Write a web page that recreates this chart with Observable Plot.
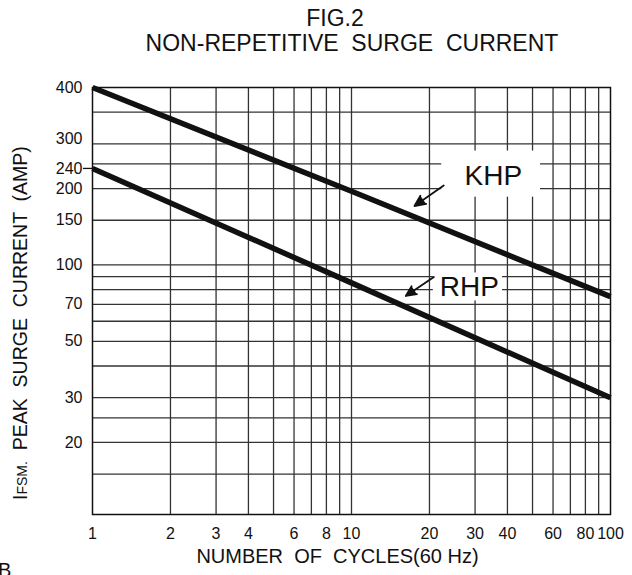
<!DOCTYPE html>
<html><head><meta charset="utf-8">
<script src="https://cdn.jsdelivr.net/npm/d3@7"></script>
<script src="https://cdn.jsdelivr.net/npm/@observablehq/plot@0.6"></script>
<style>
body{margin:0;background:#fff;font-family:"Liberation Sans",Arial,sans-serif;}
#wrap{position:relative;width:632px;height:575px;overflow:hidden;background:#fff;}
#head{position:relative;height:60px;}
.t{position:absolute;white-space:pre;color:#111;line-height:0.9;}
#chart svg{display:block;}
</style></head><body>
<div id="wrap">
  <div id="head">
    <div class="t" style="font-size:23px;left:0;width:670px;text-align:center;top:8px;">FIG.2</div>
    <div class="t" style="font-size:23px;left:0;width:704px;text-align:center;top:33px;">NON-REPETITIVE  SURGE  CURRENT</div>
  </div>
  <div id="chart"></div>
  <div class="t" style="font-size:20px;left:-2px;top:561px;">B</div>
</div>
<script>
// Data
const cycles = [1, 10, 100];
const khpAmps = [500, 195, 75];
const rhpAmps = [240, 85, 30];

// Axis ticks / grid
const xTickValues = [1, 2, 3, 4, 6, 8, 10, 20, 30, 40, 60, 80, 100];
const xTickLabels = ["1", "2", "3", "4", "6", "8", "10", "20", "30", "40", "60", "80", "100"];
const xGridValues = [2, 3, 4, 5, 6, 7, 8, 9, 10, 20, 30, 40, 50, 60, 70, 80, 90];
const yGridValues = [15, 20, 25, 30, 40, 50, 60, 70, 80, 90, 100, 150, 200, 250, 300, 400];
const yTickValues = [500, 315, 240, 200, 150, 100, 70, 50, 30, 20];
const yTickLabels = ["400", "300", "240", "200", "150", "100", "70", "50", "30", "20"];
const yMarkedTick = [240];

// Annotations (data coordinates)
const seriesNames = ["KHP", "RHP"];
const labelX = [35.3, 28.5];
const labelY = [223, 82];
const boxX1 = [22.3, 20.7];
const boxX2 = [53.7, 38.3];
const boxY1 = [185, 72.2];
const boxY2 = [281, 93];
const arrowTailX = [22.7, 20.8];
const arrowTailY = [205.5, 89.7];
const arrowTipX = [17.5, 16.2];
const arrowTipY = [170.6, 75.5];

const curves = [
  ...cycles.map((c, i) => ({series: "KHP", cycles: c, amps: khpAmps[i]})),
  ...cycles.map((c, i) => ({series: "RHP", cycles: c, amps: rhpAmps[i]}))
];
const notes = seriesNames.map((n, i) => ({
  name: n, x: labelX[i], y: labelY[i],
  bx1: boxX1[i], bx2: boxX2[i], by1: boxY1[i], by2: boxY2[i],
  ax1: arrowTailX[i], ay1: arrowTailY[i], ax2: arrowTipX[i], ay2: arrowTipY[i]
}));
const xTicks = xTickValues.map((v, i) => ({v, label: xTickLabels[i]}));
const yTicks = yTickValues.map((v, i) => ({v, label: yTickLabels[i]}));

const plot = Plot.plot({
  width: 632,
  height: 515,
  marginTop: 27,
  marginBottom: 61,
  marginLeft: 92,
  marginRight: 22,
  style: {fontFamily: "Liberation Sans, Arial, sans-serif", fontSize: "16px", color: "#111", background: "white"},
  x: {type: "log", domain: [1, 100], axis: null},
  y: {type: "log", domain: [10.4, 500], axis: null},
  marks: [
    Plot.ruleX(xGridValues, {stroke: "#333", strokeWidth: 1.3}),
    Plot.ruleY(yGridValues, {stroke: "#333", strokeWidth: 1.3}),
    Plot.rect(notes, {x1: "bx1", x2: "bx2", y1: "by1", y2: "by2", fill: "white"}),
    Plot.frame({stroke: "#111", strokeWidth: 1.5}),
    Plot.line(curves, {x: "cycles", y: "amps", z: "series", stroke: "#111", strokeWidth: 5.5, strokeLinecap: "butt"}),
    Plot.arrow(notes, {x1: "ax1", y1: "ay1", x2: "ax2", y2: "ay2", stroke: "#111", fill: "#111", strokeWidth: 1.8, headLength: 12, headAngle: 50}),
    Plot.text(notes, {x: "x", y: "y", text: "name", fontSize: 28, fill: "#111"}),
    // x tick labels
    Plot.text(xTicks, {x: "v", text: "label", frameAnchor: "bottom", lineAnchor: "top", dy: 13, fontSize: 16, fill: "#111"}),
    // y tick labels
    Plot.text(yTicks, {y: "v", text: "label", frameAnchor: "left", textAnchor: "end", dx: -10, fontSize: 16, fill: "#111"}),
    // the single outside tick at 240
    Plot.axisY(yMarkedTick, {tickSize: 9, tickFormat: () => "", label: null, stroke: "#111", strokeWidth: 1.3}),
    Plot.text(["NUMBER  OF  CYCLES(60 Hz)"], {frameAnchor: "bottom", text: d => d, dy: 48, dx: -14, fontSize: 20, fill: "#111"})
  ]
});
document.getElementById("chart").appendChild(plot);

// Y axis title with small-caps subscript
const svg = d3.select(plot);
const yt = svg.append("text")
  .attr("transform", "translate(27,440) rotate(-90)")
  .attr("text-anchor", "start")
  .attr("fill", "#111")
  .attr("xml:space", "preserve")
  .style("white-space", "pre")
  .attr("font-size", 19.5);
yt.append("tspan").text("I");
yt.append("tspan").attr("font-size", 14).text("FSM.");
yt.append("tspan").text("  PEAK  SURGE  CURRENT  (AMP)");
</script>
</body></html>
